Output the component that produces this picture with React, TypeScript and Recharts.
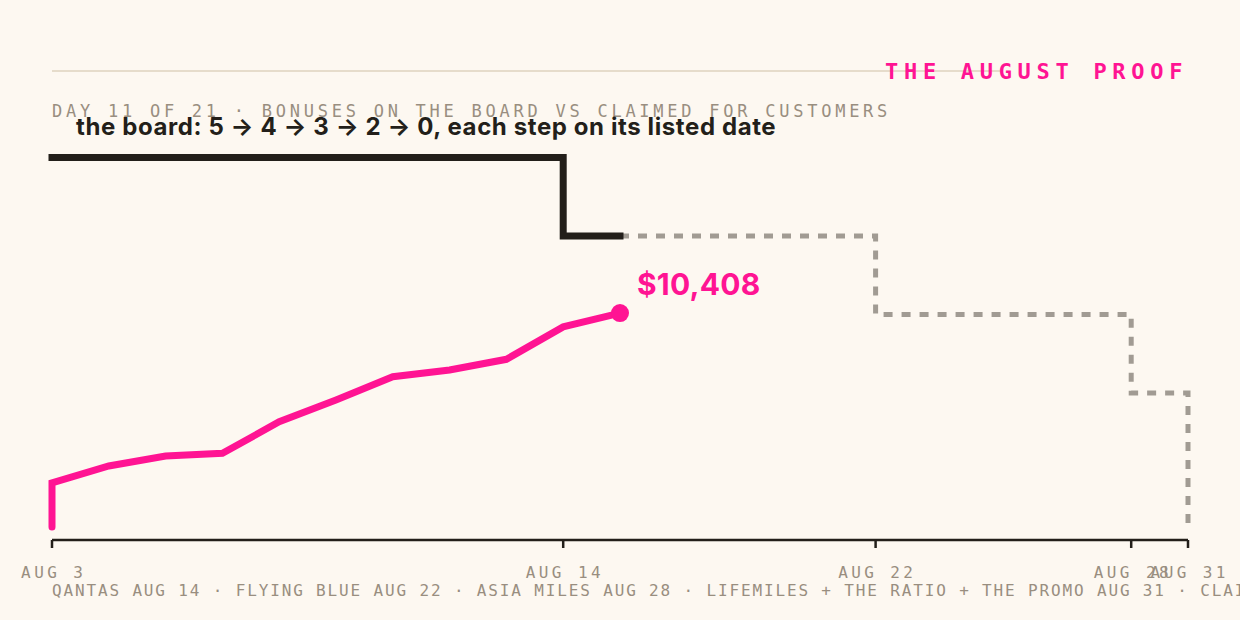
import React from 'react';
import { LineChart, Line, XAxis, YAxis, ReferenceDot } from 'recharts';

const W = 1240;
const H = 620;
const BG = '#fdf8f1';
const INK = '#231f1a';
const PINK = '#ff1493';
const PLAN_GREY = '#a19b93';
const MUTED = '#998e80';
const RULE = '#e6dccb';
const MONO = '"DejaVu Sans Mono", "Liberation Mono", monospace';
const SANS = 'Inter, "Open Sans", sans-serif';

// x positions are "day index" from Aug 3 (0) to Aug 31 (20)
const tickDays = [0, 9, 14.5, 19, 20];
const tickLabels = ['AUG 3', 'AUG 14', 'AUG 22', 'AUG 28', 'AUG 31'];

// bonuses on the board: 5 -> 4 -> 3 -> 2 -> 0
const boardDays = [0, 9, 14.5, 19, 20];
const boardCounts = [5, 4, 3, 2, 0];
const todayDay = 10;

// claimed for customers, cumulative dollars
const claimedDays = [0, 0, 1, 2, 3, 4, 5, 6, 7, 8, 9, 10];
const claimedDollars = [0, 2150, 2970, 3450, 3590, 5120, 6180, 7310, 7640, 8160, 9740, 10408];

const titleText = 'THE AUGUST PROOF';
const subtitleText = 'DAY 11 OF 21 · BONUSES ON THE BOARD VS CLAIMED FOR CUSTOMERS';
const boardNote = 'the board: 5 → 4 → 3 → 2 → 0, each step on its listed date';
const footText =
  'QANTAS AUG 14 · FLYING BLUE AUG 22 · ASIA MILES AUG 28 · LIFEMILES + THE RATIO + THE PROMO AUG 31 · CLAIMED = BONUSES BOOKED FOR CUSTOMERS';

const boardAt = (day: number) => {
  let v = boardCounts[0];
  boardDays.forEach((d, i) => {
    if (d <= day) v = boardCounts[i];
  });
  return v;
};

const solidBoard = [
  ...boardDays.filter((d) => d <= todayDay).map((d, i) => ({ day: d, count: boardCounts[i] })),
  { day: todayDay, count: boardAt(todayDay) },
];
const planBoard = [
  { day: todayDay, count: boardAt(todayDay) },
  ...boardDays
    .map((d, i) => ({ day: d, count: boardCounts[i] }))
    .filter((p) => p.day > todayDay),
];
const claimedData = claimedDays.map((d, i) => ({ day: d, claimed: claimedDollars[i] }));
const lastClaim = claimedData[claimedData.length - 1];

const fmtUsd = (v: number) => '$' + v.toLocaleString('en-US');

const AxisTick = (props: any) => {
  const { x, y, payload } = props;
  const idx = tickDays.indexOf(payload.value);
  return (
    <text
      x={x + 1.7}
      y={y + 41}
      textAnchor="middle"
      fill={MUTED}
      fontFamily={MONO}
      fontSize={16}
      letterSpacing={3.4}
    >
      {idx >= 0 ? tickLabels[idx] : ''}
    </text>
  );
};

const DotLabel = (props: any) => {
  const vb = props.viewBox || {};
  const cx = vb.x + vb.width / 2;
  const cy = vb.y + vb.height / 2;
  return (
    <text
      x={cx + 17}
      y={cy - 18}
      fill={PINK}
      fontFamily={SANS}
      fontWeight={700}
      fontSize={30}
      letterSpacing={0.2}
    >
      {fmtUsd(lastClaim.claimed)}
    </text>
  );
};

export default function App() {
  return (
    <div
      style={{
        position: 'fixed',
        left: 0,
        top: 0,
        width: W,
        height: H,
        background: BG,
        overflow: 'hidden',
      }}
    >
      <style>{`.recharts-xAxis{transform:translateY(13px);}`}</style>
      <LineChart width={W} height={H} margin={{ top: 116, right: 52, bottom: 63, left: 52 }}>
        <XAxis
          dataKey="day"
          type="number"
          domain={[0, 20]}
          ticks={tickDays}
          interval={0}
          height={30}
          tickSize={8}
          axisLine={{ stroke: INK, strokeWidth: 2.5 }}
          tickLine={{ stroke: INK, strokeWidth: 2.5 }}
          tick={<AxisTick />}
        />
        <YAxis yAxisId="claimed" type="number" domain={[0, 20000]} hide />
        <YAxis yAxisId="board" type="number" domain={[0.29, 5.53]} hide />
        <YAxis yAxisId="plan" type="number" domain={[0.29, 5.53]} allowDataOverflow hide />
        <Line
          yAxisId="plan"
          data={planBoard}
          dataKey="count"
          type="stepAfter"
          stroke={PLAN_GREY}
          strokeWidth={5}
          strokeDasharray="9 9"
          dot={false}
          activeDot={false}
          isAnimationActive={false}
        />
        <Line
          yAxisId="board"
          data={solidBoard}
          dataKey="count"
          type="stepAfter"
          stroke={INK}
          strokeWidth={7}
          strokeLinecap="square"
          strokeLinejoin="miter"
          dot={false}
          activeDot={false}
          isAnimationActive={false}
        />
        <Line
          yAxisId="claimed"
          data={claimedData}
          dataKey="claimed"
          type="linear"
          stroke={PINK}
          strokeWidth={7}
          strokeLinecap="round"
          strokeLinejoin="miter"
          dot={false}
          activeDot={false}
          isAnimationActive={false}
        />
        <ReferenceDot
          yAxisId="claimed"
          x={lastClaim.day}
          y={lastClaim.claimed}
          r={9}
          fill={PINK}
          stroke="none"
          label={<DotLabel />}
        />
      </LineChart>
      <svg
        width={W}
        height={H}
        style={{ position: 'absolute', left: 0, top: 0, pointerEvents: 'none' }}
      >
        <line x1={52} y1={71} x2={1000} y2={71} stroke={RULE} strokeWidth={2} />
        <text
          x={885}
          y={79}
          fill={PINK}
          fontFamily={MONO}
          fontWeight={700}
          fontSize={22}
          letterSpacing={5.7}
        >
          {titleText}
        </text>
        <text x={52} y={117} fill={MUTED} fontFamily={MONO} fontSize={17} letterSpacing={3.75}>
          {subtitleText}
        </text>
        <text
          x={76}
          y={135}
          fill={INK}
          fontFamily={SANS}
          fontWeight={700}
          fontSize={24}
          letterSpacing={0.6}
        >
          {boardNote}
        </text>
        <text x={52} y={596} fill={MUTED} fontFamily={MONO} fontSize={16} letterSpacing={1.85}>
          {footText}
        </text>
      </svg>
    </div>
  );
}
